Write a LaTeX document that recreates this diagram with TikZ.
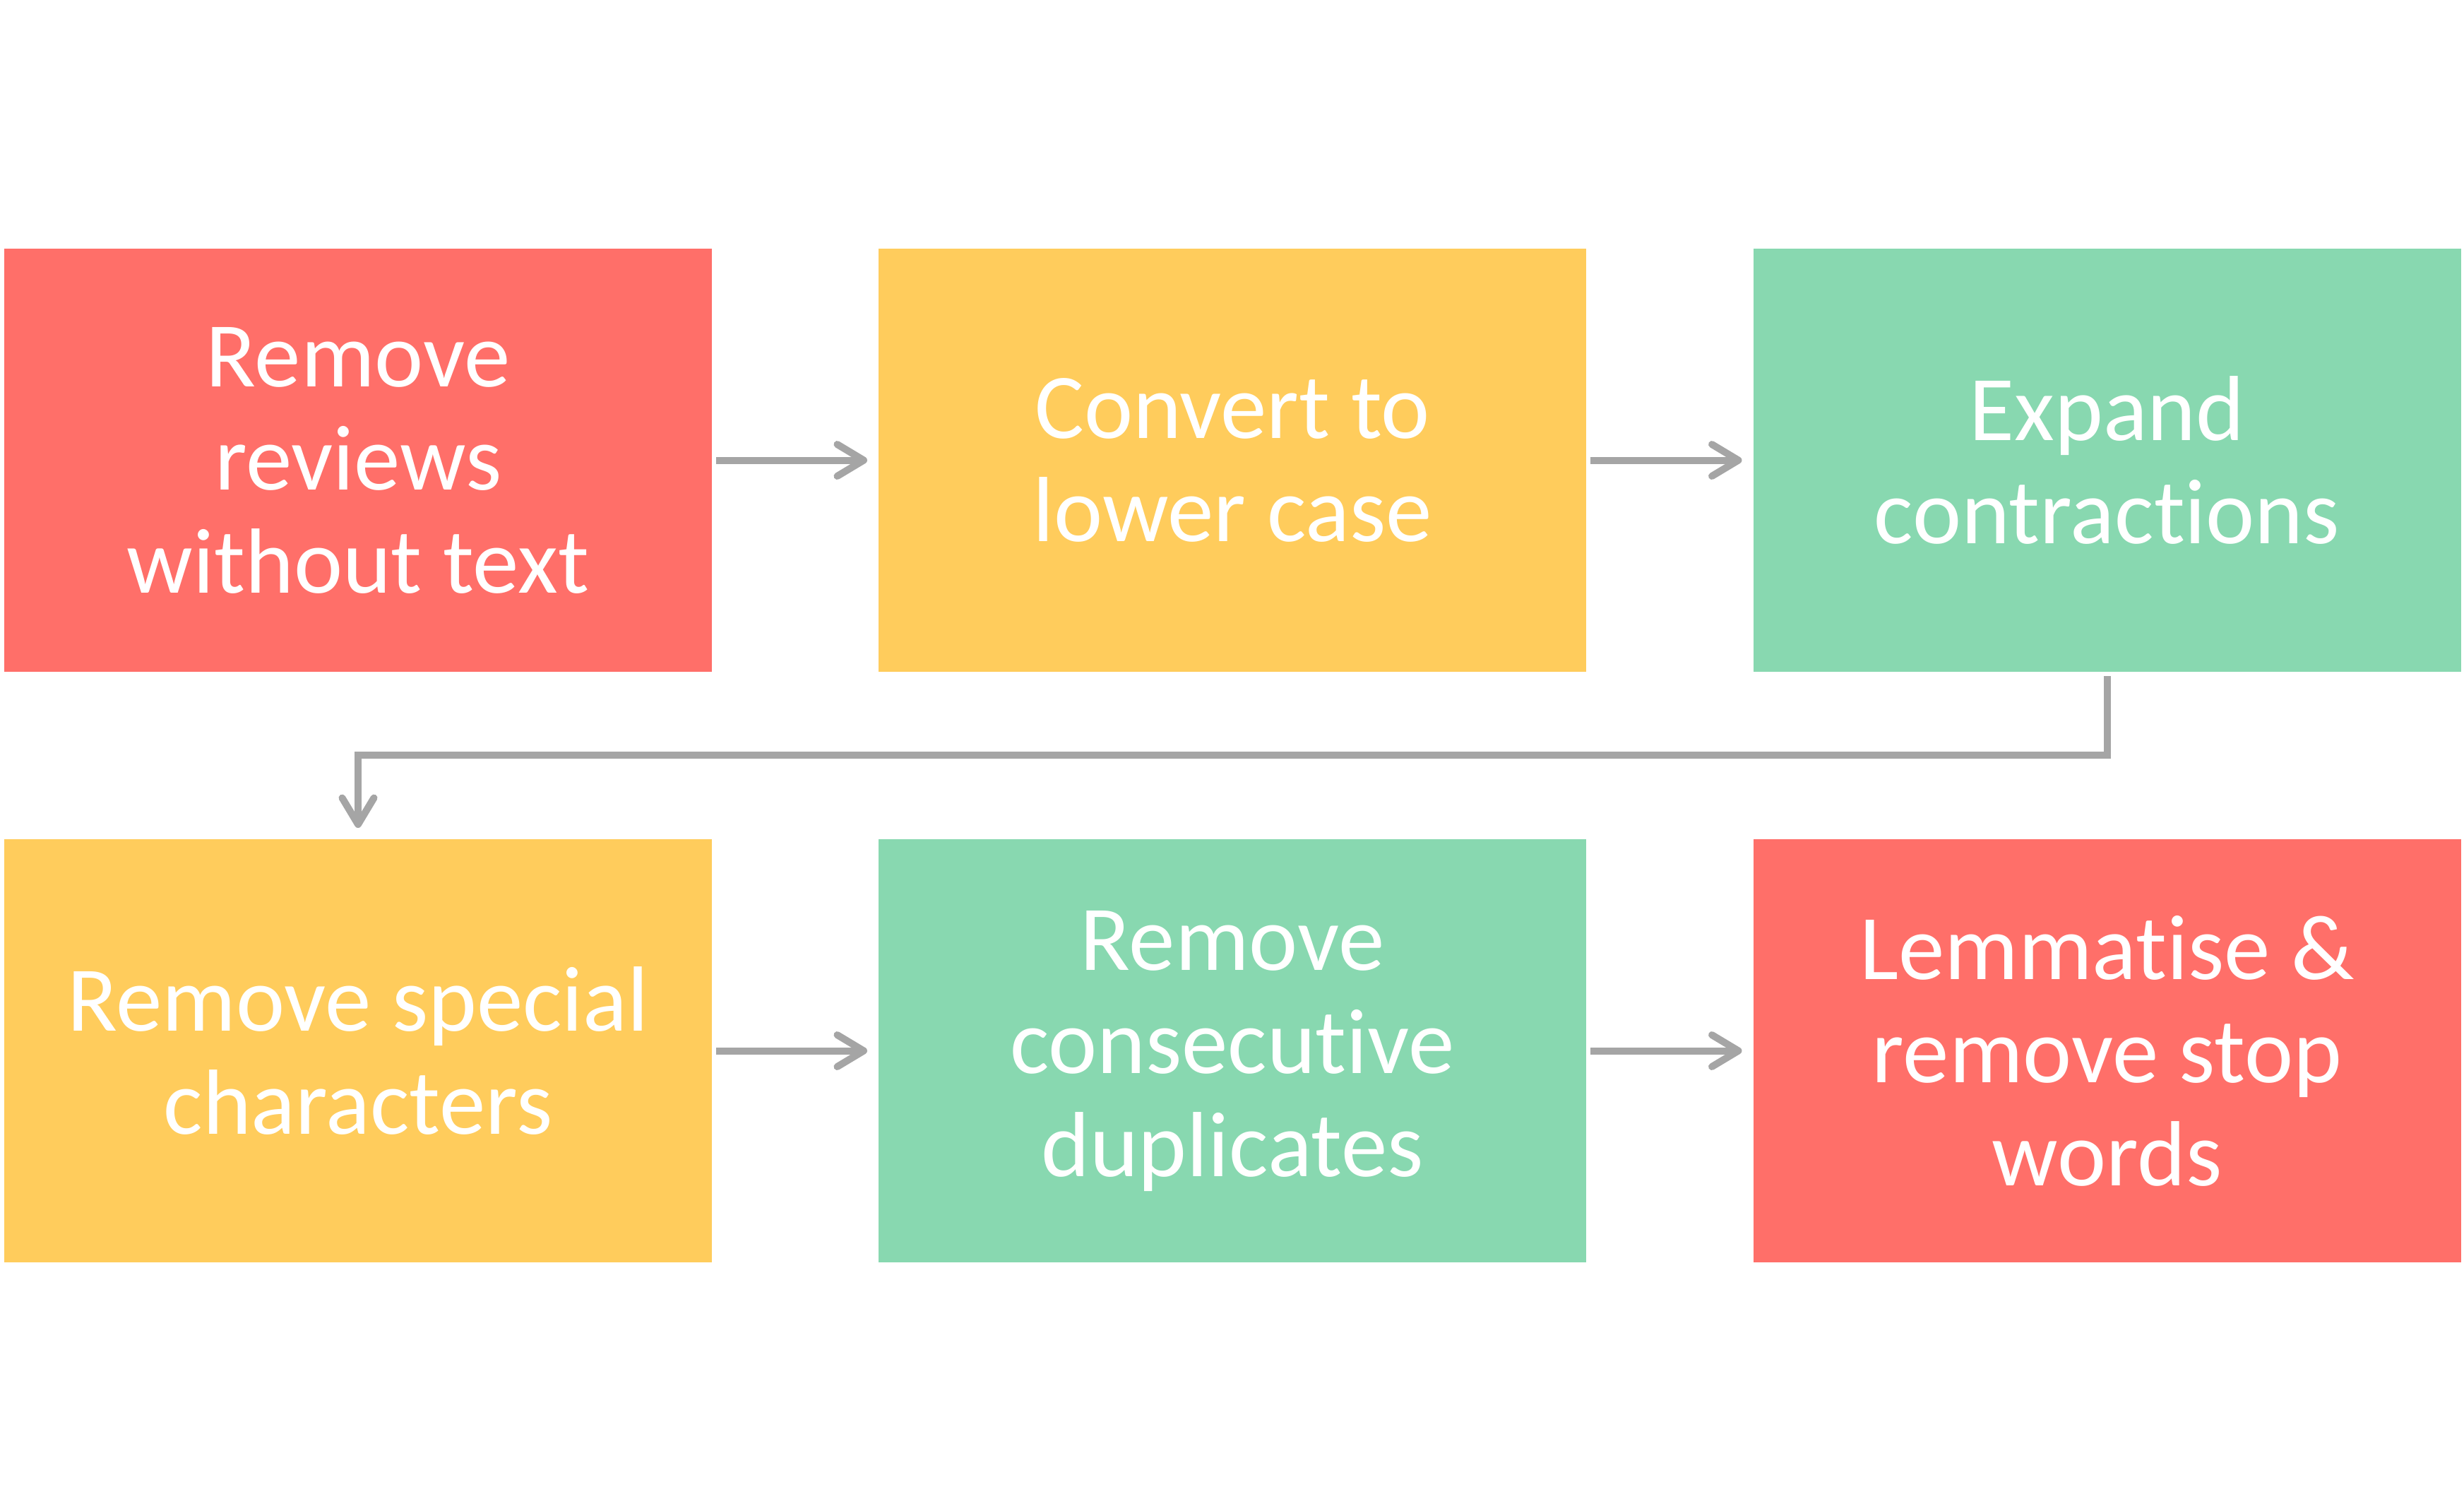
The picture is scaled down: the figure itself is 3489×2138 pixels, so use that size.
\documentclass[tikz,border=0pt]{standalone}
\usepackage{fontspec}
\setmainfont{Carlito}[Ligatures={NoCommon,NoRare,NoContextual}]
\usetikzlibrary{arrows.meta}
\definecolor{cred}{HTML}{FF6F69}
\definecolor{cyel}{HTML}{FFCC5C}
\definecolor{cgrn}{HTML}{88D8B0}
\definecolor{cgray}{HTML}{A5A5A5}
\begin{document}
\begin{tikzpicture}[x=0.2pt,y=-0.2pt,
  box/.style={minimum width=200.4pt,minimum height=119.8pt,inner sep=0pt,
    text=white,align=center,font=\fontsize{26.2pt}{29.2pt}\selectfont},
  flow/.style={draw=cgray,line width=2pt,
    -{Straight Barb[round,length=7.5pt,width=9pt]},
    shorten <=1pt,shorten >=3pt}]
\useasboundingbox (0,0) rectangle (3489,2138);
\node[box,fill=cred] (b1) at (507,651.5) {Remove\\reviews\\without text};
\node[box,fill=cyel] (b2) at (1745,651.5) {Convert to\\lower case};
\node[box,fill=cgrn] (b3) at (2983.5,651.5) {Expand\\contractions};
\node[box,fill=cyel] (b4) at (507,1487.5) {Remove special\\characters};
\node[box,fill=cgrn] (b5) at (1745,1487.5) {Remove\\consecutive\\duplicates};
\node[box,fill=cred] (b6) at (2983.5,1487.5) {Lemmatise \&\\remove stop\\words};
\coordinate (mid) at (507,1069);
\draw[flow] (b1) -- (b2);
\draw[flow] (b2) -- (b3);
\draw[flow] (b3.south) |- (mid) -- (b4.north);
\draw[flow] (b4) -- (b5);
\draw[flow] (b5) -- (b6);
\end{tikzpicture}
\end{document}
